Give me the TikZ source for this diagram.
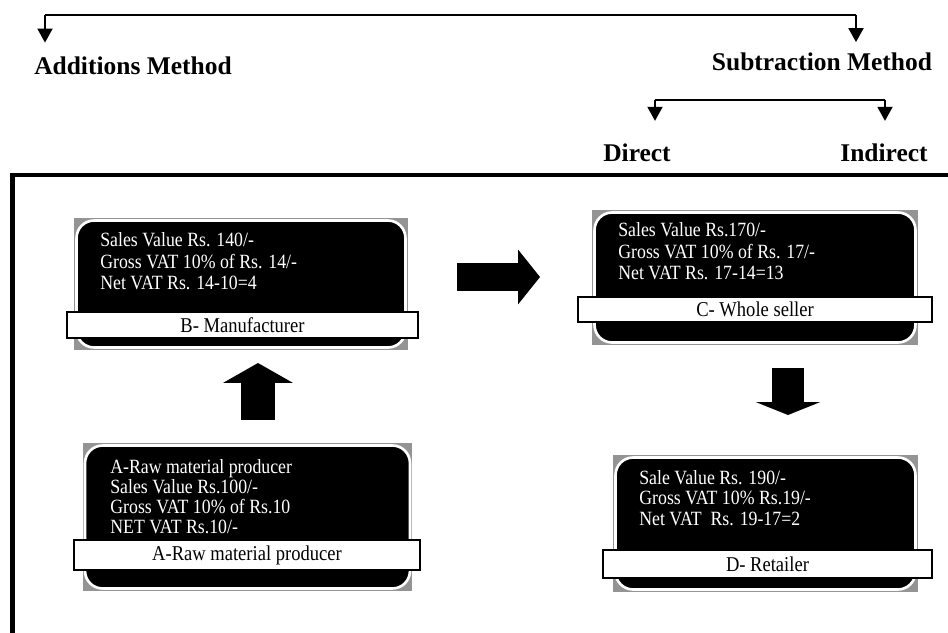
\documentclass[tikz,border=0pt]{standalone}
\usepackage{fontspec}
\setmainfont{Liberation Serif}
\newfontfamily\narrowserif[FakeStretch=0.88]{Liberation Serif}
\usetikzlibrary{arrows.meta,positioning}

\tikzset{
  link/.style={line width=1.2pt},
  drop/.style={link,-{Triangle[length=8pt,width=8.5pt]}},
  heading/.style={font=\fontsize{14.5}{17}\selectfont\bfseries, inner sep=0pt},
  backbox/.style={fill=black!42, inner sep=0pt},
  darkbox/.style={fill=black, draw=white, line width=1.5pt, rounded corners=10pt, inner sep=0pt},
  boxtext/.style={text=white, font=\narrowserif\fontsize{11.5}{12.4}\selectfont, align=left, inner sep=0pt, anchor=north west},
  tagbox/.style={fill=white, draw=black, line width=0.8pt, inner sep=0pt, font=\narrowserif\fontsize{12}{13}\selectfont},
  fatup/.style={line width=19.8pt, -{Triangle[length=11.3pt,width=39.7pt,line width=0pt]}},
  fatright/.style={line width=16.4pt, -{Triangle[length=12.5pt,width=31.2pt,line width=0pt]}},
  fatdown/.style={line width=18.7pt, -{Triangle[length=7.4pt,width=36.8pt,line width=0pt]}}
}

\begin{document}
\begin{tikzpicture}[x=0.02cm,y=-0.02cm]
\useasboundingbox (0,0) rectangle (948,633);

% methods
\node[heading] (addm) at (133,66) {Additions Method};
\node[heading] (subm) at (822,62) {Subtraction Method};
\node[heading] (direct) at (637,153) {Direct};
\node[heading] (indirect) at (884,153) {Indirect};
\coordinate (barL) at (45,15);
\coordinate (barR) at (856,15);
\draw[link] (barL) -- (barR);
\draw[drop,shorten >=8pt] (barL) -- (barL |- addm.north);
\draw[drop,shorten >=6pt] (barR) -- (barR |- subm.north);
\coordinate (subL) at (655,100);
\coordinate (subR) at (885,100);
\draw[link] (subL) -- (subR);
\draw[drop,shorten >=13pt] (subL) -- (subL |- direct.north);
\draw[drop,shorten >=13pt] (subR) -- (subR |- indirect.north);

% frame
\draw[line width=2.5pt] (12.5,633) -- (12.5,175) -- (948,175);

% B- Manufacturer
\node[backbox, minimum width=6.68cm, minimum height=2.64cm] (Bback) at (241,284) {};
\node[darkbox, minimum width=6.58cm, minimum height=2.54cm] (B) at (Bback) {};
\node[boxtext] (Btext) at (100,232) {Sales Value Rs. 140/-\\Gross VAT 10\% of Rs. 14/-\\Net VAT Rs. 14-10=4};
\node[tagbox, minimum width=7.02cm, minimum height=0.52cm] (Btag) at (242.5,325) {B- Manufacturer};

% C- Whole seller
\node[backbox, minimum width=6.52cm, minimum height=2.7cm] (Cback) at (755,277.5) {};
\node[darkbox, minimum width=6.42cm, minimum height=2.6cm] (C) at (Cback) {};
\node[boxtext] (Ctext) at (618,222) {Sales Value Rs.170/-\\Gross VAT 10\% of Rs. 17/-\\Net VAT Rs. 17-14=13};
\node[tagbox, minimum width=7.08cm, minimum height=0.5cm] (Ctag) at (755,309.5) {C- Whole seller};

% A-Raw material producer
\node[backbox, minimum width=6.6cm, minimum height=2.96cm] (Aback) at (247.5,517) {};
\node[darkbox, minimum width=6.5cm, minimum height=2.86cm] (A) at (Aback) {};
\node[boxtext, font=\narrowserif\fontsize{11.5}{11.4}\selectfont] (Atext) at (110,459) {A-Raw material producer\\Sales Value Rs.100/-\\Gross VAT 10\% of Rs.10\\NET VAT Rs.10/-};
\node[tagbox, minimum width=6.92cm, minimum height=0.6cm] (Atag) at (247,555) {A-Raw material producer};

% D- Retailer
\node[backbox, minimum width=6.1cm, minimum height=2.74cm] (Dback) at (765.5,523.5) {};
\node[darkbox, minimum width=6cm, minimum height=2.64cm] (D) at (Dback) {};
\node[boxtext, font=\narrowserif\fontsize{11.5}{11.6}\selectfont] (Dtext) at (639,470) {Sale Value Rs. 190/-\\Gross VAT 10\% Rs.19/-\\Net VAT~ Rs. 19-17=2};
\node[tagbox, minimum width=6.58cm, minimum height=0.56cm] (Dtag) at (767.5,564) {D- Retailer};

% flow
\coordinate (AB1) at (258,420);
\coordinate (AB2) at (258,363);
\draw[fatup] (AB1) -- (AB2);
\coordinate (BC1) at (457,277);
\coordinate (BC2) at (540,277);
\draw[fatright] (BC1) -- (BC2);
\coordinate (CD1) at (788,368);
\coordinate (CD2) at (788,415);
\draw[fatdown] (CD1) -- (CD2);
\end{tikzpicture}
\end{document}
